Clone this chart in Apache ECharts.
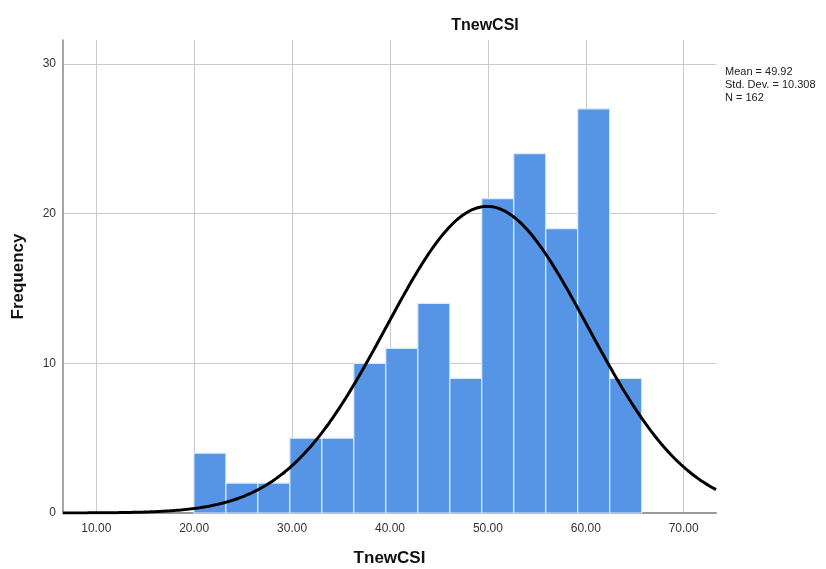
<!DOCTYPE html>
<html><head><meta charset="utf-8">
<script src="https://cdn.jsdelivr.net/npm/echarts@6/dist/echarts.min.js"></script>
<style>html,body{margin:0;padding:0;background:#fff}#c{width:826px;height:569px}</style>
</head><body><div id="c"></div>
<script>
var binEdges = [19.97, 23.24, 26.50, 29.77, 33.04, 36.30, 39.57, 42.84, 46.11, 49.37, 52.64, 55.91, 59.17, 62.44, 65.71];
var frequencies = [4, 2, 2, 5, 5, 10, 11, 14, 9, 21, 24, 19, 27, 9];
var xTicks = [10, 20, 30, 40, 50, 60, 70];
var yTicks = [0, 10, 20, 30];
var statMean = 49.92, statSD = 10.308, statN = 162;
var statLines = ['Mean = 49.92', 'Std. Dev. = 10.308', 'N = 162'];

var xMin = 6.6, xMax = 73.3;
var bins = frequencies.map(function (f, i) { return [binEdges[i], binEdges[i + 1], f]; });
var binW = (binEdges[binEdges.length - 1] - binEdges[0]) / frequencies.length;
var curve = [];
for (var k = 0; k <= 300; k++) {
  var x = xMin + (xMax - xMin) * k / 300;
  var z = (x - statMean) / statSD;
  curve.push([x, statN * binW / (statSD * Math.sqrt(2 * Math.PI)) * Math.exp(-0.5 * z * z)]);
}

var font = '"Liberation Sans", Arial, sans-serif';
var chart = echarts.init(document.getElementById('c'), null, {renderer: 'canvas'});
chart.setOption({
  animation: false,
  backgroundColor: '#fff',
  title: {text: 'TnewCSI', left: 480, top: 13, textAlign: 'center',
    textStyle: {fontFamily: font, fontSize: 16, fontWeight: 'bold', color: '#111'}},
  grid: {left: 63, right: 110, top: 40, bottom: 56, containLabel: false, outerBoundsMode: 'none'},
  xAxis: {
    type: 'value', min: xMin, max: xMax,
    name: 'TnewCSI', nameLocation: 'middle', nameGap: 37,
    nameTextStyle: {fontFamily: font, fontSize: 17, fontWeight: 'bold', color: '#111'},
    axisLine: {show: true, onZero: false, lineStyle: {color: '#999', width: 2}},
    axisTick: {show: false, customValues: xTicks},
    axisLabel: {customValues: xTicks, margin: 10, fontFamily: font, fontSize: 12, color: '#333',
      formatter: function (v) { return v.toFixed(2); }},
    splitLine: {show: true, lineStyle: {color: '#cacaca', width: 1}}
  },
  yAxis: {
    type: 'value', min: 0, max: 31.6,
    name: 'Frequency', nameLocation: 'middle', nameGap: 36, nameRotate: 90,
    nameTextStyle: {fontFamily: font, fontSize: 17, fontWeight: 'bold', color: '#111'},
    axisLine: {show: true, lineStyle: {color: '#888', width: 1.5}},
    axisTick: {show: false, customValues: yTicks},
    axisLabel: {customValues: yTicks, margin: 7, fontFamily: font, fontSize: 12, color: '#333'},
    splitLine: {show: true, lineStyle: {color: '#cacaca', width: 1}}
  },
  graphic: [{
    type: 'text', left: 725, top: 65,
    style: {text: statLines.join('\n'), font: '11px ' + font, fill: '#222', lineHeight: 13}
  }],
  series: [{
    type: 'custom',
    data: bins,
    encode: {x: [0, 1], y: 2},
    renderItem: function (params, api) {
      var p0 = api.coord([api.value(0), api.value(2)]);
      var p1 = api.coord([api.value(1), 0]);
      return {
        type: 'rect',
        shape: {x: p0[0], y: p0[1], width: p1[0] - p0[0], height: p1[1] - p0[1]},
        style: {fill: '#5695e5', stroke: '#dce9f9', lineWidth: 1.2}
      };
    },
    z: 2
  }, {
    type: 'line', data: curve, showSymbol: false, smooth: false,
    lineStyle: {color: '#000', width: 3}, z: 3, silent: true
  }]
});
</script></body></html>
